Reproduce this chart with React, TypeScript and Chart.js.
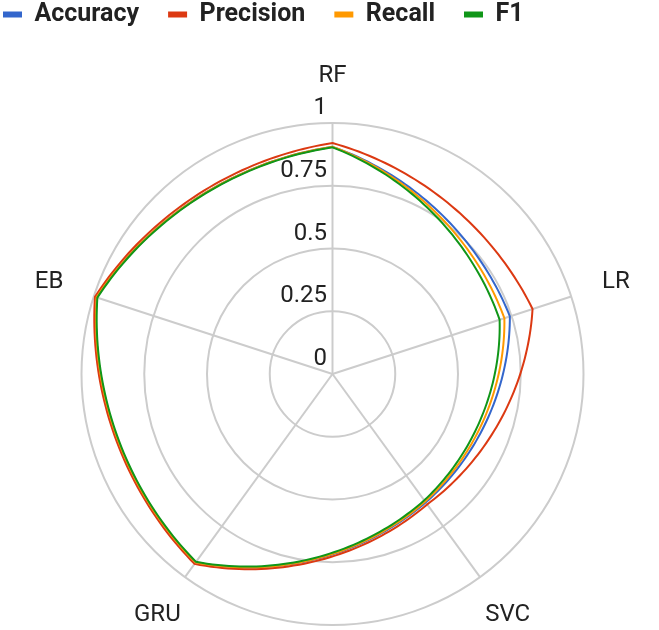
import * as React from 'react';
import { Chart, registerables } from 'chart.js';

Chart.register(...registerables);

// categories round the radar, clockwise from the top
const models = ['RF', 'LR', 'SVC', 'GRU', 'EB'];

// scores
const accuracy = [0.905, 0.743, 0.632, 0.928, 0.988];
const precision = [0.92, 0.838, 0.642, 0.935, 0.995];
const recall = [0.905, 0.72, 0.628, 0.928, 0.988];
const f1 = [0.903, 0.7, 0.622, 0.925, 0.985];

const tickLabels = ['0', '0.25', '0.5', '0.75', '1'];

const seriesNames = ['Accuracy', 'Precision', 'Recall', 'F1'];
const seriesColors = ['#3366cc', '#dc3912', '#ff9900', '#109618'];

const FONT = 'Roboto';
const GRID = '#cccccc';
// 0 = pure polar arc between points, 1 = straight chord
const CHORD_MIX = 0.35;

const polarLines = {
    id: 'polarLines',
    afterLayout(chart: any) {
        const s = chart.scales.r;
        s.xCenter = 332.5;
        s.yCenter = 374;
        s.drawingArea = 251;
    },
    afterDatasetsDraw(chart: any) {
        const s = chart.scales.r;
        const ctx = chart.ctx;
        chart.data.datasets.forEach((ds: any) => {
            const vals = ds.data as number[];
            const n = vals.length;
            const steps = 48;
            ctx.save();
            ctx.strokeStyle = ds.borderColor;
            ctx.lineWidth = 2;
            ctx.lineJoin = 'miter';
            ctx.beginPath();
            for (let i = 0; i < n; i++) {
                const a = vals[i];
                const b = vals[(i + 1) % n];
                const pa = s.getPointPosition(i, s.getDistanceFromCenterForValue(a));
                const pb = s.getPointPosition(i + 1, s.getDistanceFromCenterForValue(b));
                for (let k = 0; k <= steps; k++) {
                    const t = k / steps;
                    const p = s.getPointPosition(i + t, s.getDistanceFromCenterForValue(a + (b - a) * t));
                    const x = p.x + CHORD_MIX * (pa.x + (pb.x - pa.x) * t - p.x);
                    const y = p.y + CHORD_MIX * (pa.y + (pb.y - pa.y) * t - p.y);
                    if (i === 0 && k === 0) ctx.moveTo(x, y);
                    else ctx.lineTo(x, y);
                }
            }
            ctx.closePath();
            ctx.stroke();
            ctx.restore();
        });

        // tick labels sit above each ring, just left of the vertical axis line
        ctx.save();
        ctx.fillStyle = '#222';
        ctx.font = `24px ${FONT}`;
        ctx.textAlign = 'right';
        ctx.textBaseline = 'middle';
        s.ticks.forEach((tick: any, i: number) => {
            const d = s.getDistanceFromCenterForValue(tick.value);
            ctx.fillText(tickLabels[i] ?? String(tick.value), s.xCenter - 5.5, s.yCenter - d - 15);
        });

        // category labels
        ctx.textAlign = 'center';
        models.forEach((m, i) => {
            const p = s.getPointPosition(i, s.drawingArea + 47);
            ctx.fillText(m, p.x, p.y);
        });
        ctx.restore();
    },
};

export default function App() {
    const canvasRef = React.useRef<HTMLCanvasElement | null>(null);

    React.useEffect(() => {
        if (!canvasRef.current) return;
        const all = [accuracy, precision, recall, f1];
        const chart = new Chart(canvasRef.current, {
            type: 'radar',
            data: {
                labels: models,
                datasets: all.map((d, i) => ({
                    label: seriesNames[i],
                    data: d,
                    borderColor: seriesColors[i],
                    backgroundColor: seriesColors[i],
                    borderWidth: 0,
                    showLine: false,
                    fill: false,
                    pointRadius: 0,
                    pointHoverRadius: 0,
                })),
            },
            options: {
                animation: false,
                responsive: true,
                maintainAspectRatio: false,
                layout: { padding: { top: -27, left: -26 } },
                plugins: {
                    legend: {
                        position: 'top',
                        align: 'start',
                        labels: {
                            boxWidth: 19,
                            boxHeight: 6,
                            padding: 29,
                            color: '#222',
                            font: { family: FONT, size: 25, weight: 'bold' },
                        },
                    },
                    tooltip: { enabled: false },
                },
                scales: {
                    r: {
                        min: 0,
                        max: 1,
                        ticks: { stepSize: 0.25, display: false },
                        grid: { circular: true, color: GRID, lineWidth: 2 },
                        angleLines: { color: GRID, lineWidth: 2 },
                        pointLabels: { display: false },
                    },
                },
            },
            plugins: [polarLines],
        });
        return () => chart.destroy();
    }, []);

    return (
        <div style={{ position: 'absolute', left: 0, top: 0, width: 659, height: 630 }}>
            <canvas ref={canvasRef} />
        </div>
    );
}
